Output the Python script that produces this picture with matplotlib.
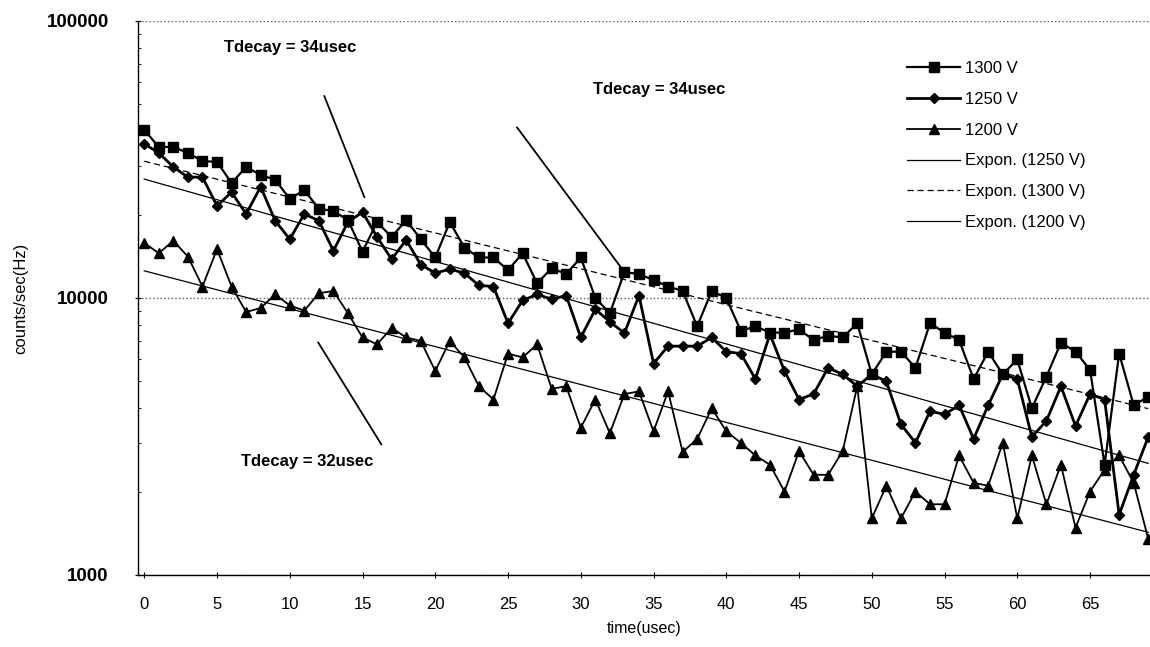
import numpy as np
import matplotlib.pyplot as plt
import matplotlib.ticker as ticker

plt.rcParams['font.family'] = ['Liberation Sans', 'DejaVu Sans']

# time bins (usec) and measured rates (counts/sec)
t = np.arange(0, 70)

c1300 = [40400, 35100, 35100, 33400, 31200, 31000, 26000, 29700, 27800, 26700,
         22800, 24500, 21000, 20600, 19100, 14700, 18800, 16600, 19100, 16300,
         14000, 18800, 15200, 14000, 14000, 12600, 14500, 11300, 12800, 12200,
         14000, 10000, 8800, 12400, 12200, 11600, 11000, 10600, 7900, 10600,
         10000, 7600, 7900, 7500, 7500, 7700, 7050, 7300, 7200, 8100,
         5300, 6400, 6400, 5600, 8100, 7500, 7050, 5100, 6400, 5300,
         6000, 4000, 5200, 6900, 6400, 5500, 2500, 6300, 4100, 4400]

c1250 = [36000, 33400, 29700, 27300, 27300, 21500, 24100, 20100, 25200, 19000,
         16300, 20100, 19000, 14800, 18800, 20400, 16600, 13800, 16200, 13200,
         12300, 12700, 12300, 11100, 11000, 8100, 9800, 10300, 9900, 10200,
         7200, 9100, 8200, 7470, 10200, 5800, 6700, 6700, 6700, 7200,
         6400, 6300, 5100, 7400, 5450, 4300, 4500, 5600, 5300, 4800,
         5300, 5000, 3500, 3000, 3900, 3800, 4100, 3100, 4100, 5300,
         5100, 3150, 3600, 4800, 3450, 4500, 4300, 1650, 2300, 3150]

c1200 = [15800, 14500, 16100, 14100, 11000, 15000, 11000, 8900, 9200, 10300,
         9400, 9000, 10400, 10600, 8800, 7200, 6800, 7800, 7200, 7000,
         5450, 7000, 6100, 4800, 4300, 6300, 6100, 6800, 4700, 4800,
         3400, 4300, 3250, 4500, 4600, 3300, 4600, 2780, 3100, 4000,
         3300, 3000, 2700, 2500, 2000, 2800, 2300, 2300, 2800, 4800,
         1600, 2100, 1600, 2000, 1800, 1800, 2700, 2150, 2100, 3000,
         1600, 2700, 1800, 2500, 1480, 2000, 2400, 2700, 2150, 1350]

series = [("1300 V", c1300, 's', 6.5, 1.6),
          ("1250 V", c1250, 'D', 5.5, 2.0),
          ("1200 V", c1200, '^', 6.5, 1.3)]

fig = plt.figure(figsize=(11.5, 6.47), dpi=100)
ax = fig.add_axes([0.12, 0.1113, 0.88, 0.8563])

for lab, y, mk, ms, lw in series:
    ax.plot(t, y, color='black', marker=mk, markersize=ms, linewidth=lw, label=lab)

# exponential trend lines, fitted on ln(counts)
def expfit(y):
    b, a = np.polyfit(t, np.log(y), 1)
    return np.exp(a + b * t)

ax.plot(t, expfit(c1250), color='black', lw=0.9, ls='-', label='Expon. (1250 V)')
ax.plot(t, expfit(c1300), color='black', lw=0.9, ls=(0, (5, 3)), label='Expon. (1300 V)')
ax.plot(t, expfit(c1200), color='black', lw=0.9, ls='-', label='Expon. (1200 V)')

ax.set_yscale('log')
ax.set_ylim(1000, 100000)
ax.set_xlim(-0.43, 69.12)
ax.xaxis.set_major_locator(ticker.MultipleLocator(5))
ax.yaxis.set_major_formatter(ticker.FuncFormatter(lambda v, p: '%d' % v))
ax.yaxis.set_minor_formatter(ticker.NullFormatter())
ax.tick_params(axis='y', which='major', labelsize=13.5, length=4, direction='inout', pad=19)
ax.tick_params(axis='y', which='minor', length=2, direction='in')
ax.tick_params(axis='x', labelsize=12, length=4, direction='inout', pad=14)
for lbl in ax.get_yticklabels():
    lbl.set_fontweight('bold')

ax.grid(True, axis='y', which='major', color='0.35', ls=':', lw=1.0)
ax.spines['top'].set_visible(False)
ax.spines['right'].set_visible(False)
ax.spines['left'].set_linewidth(1.0)
ax.spines['bottom'].set_linewidth(1.0)

ax.set_xlabel('time(usec)', fontsize=11.5, labelpad=6)
ax.set_ylabel('counts/sec(Hz)', fontsize=12)
ax.yaxis.set_label_coords(-0.108, 0.5)

# decay-time notes with pointer lines
notes = [("Tdecay = 34usec", (10.0, 80500), (12.3, 54800), (15.2, 22600)),
         ("Tdecay = 34usec", (35.4, 56400), (25.5, 42100), (32.9, 12600)),
         ("Tdecay = 32usec", (11.2, 2560), (11.85, 7050), (16.4, 2900))]
for txt, pos, p0, p1 in notes:
    ax.text(pos[0], pos[1], txt, fontsize=12, fontweight='bold', ha='center', va='center')
    ax.annotate('', xy=p1, xytext=p0,
                arrowprops=dict(arrowstyle='-', color='black', lw=1.3))

ax.legend(loc='upper left', bbox_to_anchor=(0.745, 0.955), frameon=False,
          fontsize=12, labelspacing=0.95, handlelength=3.2, handletextpad=0.3)

plt.savefig('out.png', dpi=100)
